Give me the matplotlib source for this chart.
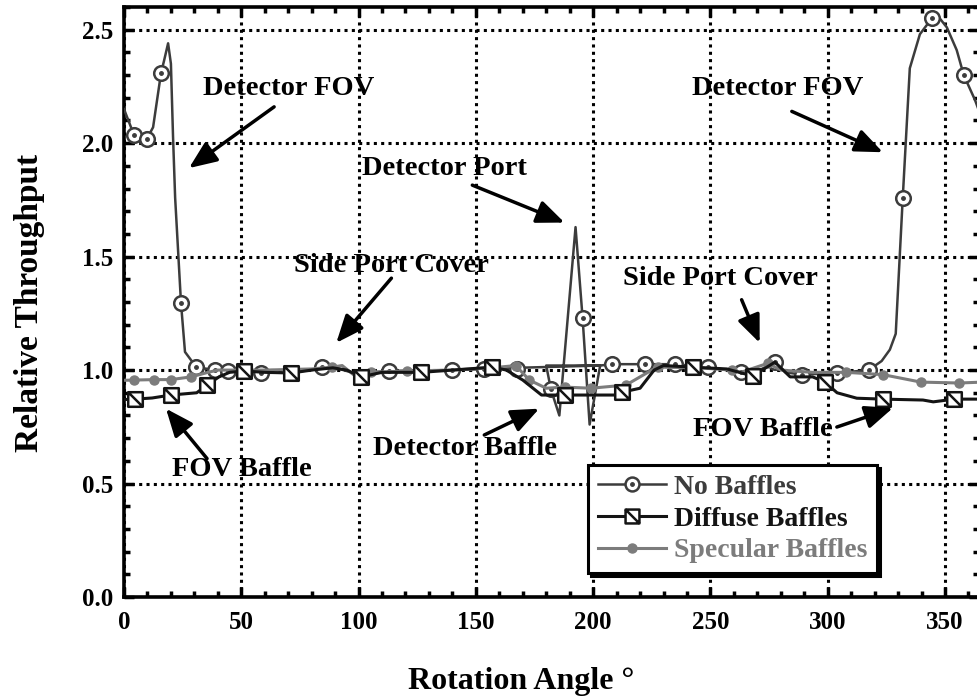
import matplotlib
matplotlib.use("Agg")
import matplotlib.pyplot as plt
from matplotlib.path import Path
from matplotlib.lines import Line2D
from matplotlib.legend_handler import HandlerTuple

plt.rcParams['font.family'] = ['Liberation Serif', 'DejaVu Serif']
plt.rcParams['font.weight'] = 'bold'

# --- data ---
# No Baffles (line path; 2 points repeat to draw the flat segment near 190 deg)
nb_x = [0, 4.3, 9.8, 12.4, 15.8, 17, 18.8, 20, 20.9, 21.8, 24.3, 26, 30.8, 38.8, 44.4,
        50, 58.5, 70, 80, 84.5, 90, 97, 105, 113, 125, 140, 153.6, 167.7, 203, 180,
        182, 185.6, 192.5, 195.5, 198.5, 203, 208, 222, 234.7, 249, 263, 270, 277.5,
        282, 289, 304, 317.5, 323, 326.5, 329, 332, 335, 339.3, 344.4, 347, 350.8,
        355, 358, 362.8, 366]
nb_y = [2.15, 2.035, 2.02, 2.07, 2.31, 2.36, 2.44, 2.35, 2.03, 1.76, 1.295, 1.08, 1.013,
        1.0, 0.996, 0.99, 0.987, 0.99, 1.0, 1.013, 1.01, 0.99, 0.99, 0.996, 0.998, 1.0,
        1.004, 1.01, 1.02, 1.02, 0.915, 0.80, 1.63, 1.23, 0.76, 1.02, 1.026, 1.026,
        1.026, 1.013, 0.99, 0.995, 1.035, 0.99, 0.98, 0.987, 1.0, 1.04, 1.09, 1.16,
        1.76, 2.33, 2.48, 2.55, 2.56, 2.51, 2.41, 2.30, 2.19, 2.1]
nb_mx = [4.3, 9.8, 15.8, 24.3, 30.8, 38.8, 44.4, 58.5, 84.5, 113, 140, 153.6, 167.7,
         182, 195.5, 208, 222, 234.7, 249, 263, 277.5, 289, 304, 317.5, 332, 344.4, 358]
nb_my = [2.035, 2.02, 2.31, 1.295, 1.013, 1.0, 0.996, 0.987, 1.013, 0.996, 1.0, 1.004,
         1.005, 0.915, 1.23, 1.026, 1.026, 1.026, 1.013, 0.99, 1.035, 0.98, 0.987, 1.0,
         1.76, 2.55, 2.30]

# Diffuse Baffles
df_x = [0, 4.7, 12, 20, 31, 35.4, 40.5, 45, 51.2, 60, 71.3, 80, 89, 95, 101, 110, 126.8,
        140, 157, 163, 170, 178, 187.8, 210, 212.5, 220, 226, 230, 242.4, 257, 268,
        277.5, 284, 293.6, 298.8, 304, 312.4, 323.5, 340.6, 345, 354, 366]
df_y = [0.87, 0.872, 0.877, 0.89, 0.90, 0.934, 0.97, 0.99, 0.996, 0.99, 0.987, 1.0, 1.01,
        1.0, 0.97, 0.99, 0.99, 1.0, 1.013, 1.0, 0.956, 0.89, 0.89, 0.89, 0.903, 0.92,
        1.0, 1.02, 1.013, 1.005, 0.974, 1.035, 0.97, 0.97, 0.947, 0.90, 0.876, 0.872,
        0.868, 0.86, 0.872, 0.872]
df_mx = [4.7, 20, 35.4, 51.2, 71.3, 101, 126.8, 157, 187.8, 212.5, 242.4, 268, 298.8,
         323.5, 354]
df_my = [0.872, 0.89, 0.934, 0.996, 0.987, 0.97, 0.99, 1.013, 0.89, 0.903, 1.013, 0.974,
         0.947, 0.872, 0.872]

# Specular Baffles
sp_x = [0, 4.3, 12.8, 20, 28.6, 35.8, 40, 60, 80, 88.8, 93, 99, 105.4, 120.8, 140, 157,
        167, 172.8, 180, 187.8, 199, 214, 225, 227.5, 245, 259, 263, 274.5, 280, 293.6,
        308, 323.5, 339.7, 356, 366]
sp_y = [0.955, 0.956, 0.958, 0.958, 0.97, 0.99, 1.0, 1.0, 1.005, 1.013, 1.02, 0.97, 0.99,
        0.996, 1.0, 1.01, 1.02, 0.956, 0.92, 0.925, 0.92, 0.934, 1.0, 1.013, 1.01, 1.0,
        0.99, 1.03, 1.0, 0.99, 0.99, 0.98, 0.947, 0.943, 0.947]
sp_mx = [4.3, 12.8, 20, 28.6, 88.8, 105.4, 120.8, 167, 172.8, 187.8, 199, 214, 227.5,
         259, 274.5, 308, 323.5, 339.7, 356]
sp_my = [0.956, 0.958, 0.958, 0.97, 1.013, 0.99, 0.996, 1.02, 0.956, 0.925, 0.92, 0.934,
         1.013, 1.0, 1.03, 0.99, 0.98, 0.947, 0.943]

labels = ['No Baffles', 'Diffuse Baffles', 'Specular Baffles']
colors = ['#3c3c3c', '#141414', '#7c7c7c']

# annotations: text, text position, arrow tail, arrow tip
notes = [
    ('Detector FOV', (70.4, 2.24), (64, 2.16), (27.7, 1.89)),
    ('Detector FOV', (278.7, 2.24), (284.7, 2.14), (323.5, 1.96)),
    ('Detector Port', (136.6, 1.89), (148.5, 1.815), (187.8, 1.65)),
    ('Side Port Cover', (114, 1.46), (114, 1.405), (90.5, 1.12)),
    ('Side Port Cover', (254.4, 1.405), (263.3, 1.31), (271, 1.12)),
    ('FOV Baffle', (50.4, 0.56), (35.4, 0.61), (17.9, 0.83)),
    ('Detector Baffle', (145.5, 0.656), (153.6, 0.714), (177, 0.83)),
    ('FOV Baffle', (272.3, 0.736), (303.9, 0.749), (327.8, 0.833)),
]

# square with a diagonal
sq_diag = Path([(-1, -1), (1, -1), (1, 1), (-1, 1), (-1, -1), (-1, 1), (1, -1)],
               [Path.MOVETO, Path.LINETO, Path.LINETO, Path.LINETO, Path.CLOSEPOLY,
                Path.MOVETO, Path.LINETO])

fig = plt.figure(figsize=(9.77, 6.98), dpi=100)
ax = fig.add_axes([124 / 977, 101 / 698, 855 / 977, 590 / 698])

ax.plot(nb_x, nb_y, color=colors[0], lw=1.8, zorder=3)
ax.plot(nb_mx, nb_my, ls='none', marker='o', ms=10.5, mfc='white', mec=colors[0], mew=1.8, zorder=3.1)
ax.plot(nb_mx, nb_my, ls='none', marker='o', ms=2.5, mfc=colors[0], mec=colors[0], zorder=3.2)

ax.plot(sp_x, sp_y, color=colors[2], lw=2.2, zorder=4)
ax.plot(sp_mx, sp_my, ls='none', marker='o', ms=6.5, color=colors[2], zorder=4.1)

ax.plot(df_x, df_y, color=colors[1], lw=2.2, zorder=5)
ax.plot(df_mx, df_my, ls='none', marker=sq_diag, ms=10.5, mfc='white', mec=colors[1], mew=1.8, zorder=5.1)

for txt, tpos, tail, tip in notes:
    ax.text(tpos[0], tpos[1], txt, ha='center', va='center', fontsize=20.5, zorder=6)
    ax.annotate('', xy=tip, xytext=tail, zorder=6,
                arrowprops=dict(arrowstyle='-|>,head_length=0.6,head_width=0.25',
                                color='black', lw=2.5, mutation_scale=28,
                                shrinkA=0, shrinkB=0))

ax.set_xlim(0, 364.5)
ax.set_ylim(0, 2.6)
ax.set_xticks([0, 50, 100, 150, 200, 250, 300, 350])
ax.set_xticks(range(0, 365, 10), minor=True)
ax.set_yticks([0.0, 0.5, 1.0, 1.5, 2.0, 2.5])
ax.set_yticklabels(['0.0', '0.5', '1.0', '1.5', '2.0', '2.5'])
ax.set_yticks([i / 10 for i in range(27)], minor=True)
ax.tick_params(which='both', direction='in', top=True, right=True, width=2.5,
               labelsize=18, colors='black')
ax.tick_params(which='major', length=7.5, pad=8)
ax.tick_params(axis='x', which='major', pad=10)
ax.tick_params(which='minor', length=4.5)
ax.grid(True, which='major', color='black', linestyle=(0, (1, 1.4)), linewidth=2.2)
for s in ax.spines.values():
    s.set_linewidth(2.6)

fig.text(30 / 977, 1 - 303 / 698, 'Relative Throughput', rotation=90,
         ha='center', va='center', fontsize=24)
fig.text(521 / 977, 1 - 681 / 698, 'Rotation Angle \u00b0', ha='center', va='center', fontsize=23)

h_nb = (Line2D([], [], color=colors[0], lw=1.8, marker='o', ms=10, mfc='white',
               mec=colors[0], mew=1.8),
        Line2D([], [], ls='none', marker='o', ms=2.5, color=colors[0]))
h_df = Line2D([], [], color=colors[1], lw=2.2, marker=sq_diag, ms=10, mfc='white',
              mec=colors[1], mew=1.8)
h_sp = Line2D([], [], color=colors[2], lw=2.2, marker='o', ms=6.5)
leg = fig.legend([h_nb, h_df, h_sp], labels, loc='upper left',
                 bbox_to_anchor=(588 / 977, 1 - 465 / 698), bbox_transform=fig.transFigure,
                 borderaxespad=0, fontsize=20, numpoints=1, handlelength=2.45,
                 handletextpad=0.3, labelspacing=0.22, borderpad=0.35, fancybox=False,
                 shadow={'color': 'black', 'alpha': 1},
                 handler_map={tuple: HandlerTuple(ndivide=1)}, framealpha=1)
leg.get_frame().set_edgecolor('black')
leg.get_frame().set_linewidth(2.2)
for t, c in zip(leg.get_texts(), colors):
    t.set_color(c)

fig.savefig('out.png', dpi=100)
